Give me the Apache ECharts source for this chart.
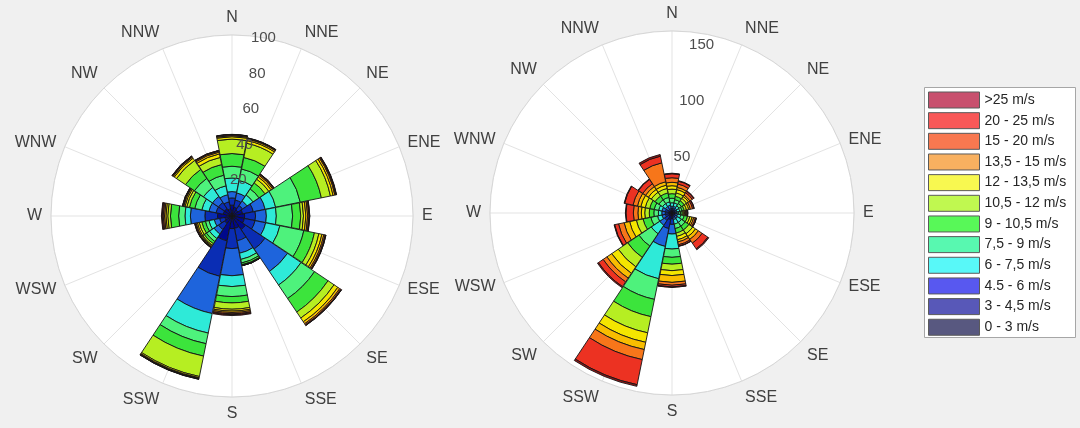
<!DOCTYPE html>
<html>
<head>
<meta charset="utf-8">
<script src="https://cdn.jsdelivr.net/npm/echarts@6/dist/echarts.min.js"></script>
<style>
  html, body { margin: 0; padding: 0; background: #f0f0f0; }
  #chart { width: 1080px; height: 428px; }
</style>
</head>
<body>
<div id="chart"></div>
<script>
// Compass sectors, clockwise from north
const directions = ['N', 'NNE', 'NE', 'ENE', 'E', 'ESE', 'SE', 'SSE',
                    'S', 'SSW', 'SW', 'WSW', 'W', 'WNW', 'NW', 'NNW'];

// Wind speed classes, slowest first (stacked from the centre outwards)
const speedClasses = ['0 - 3 m/s', '3 - 4,5 m/s', '4.5 - 6 m/s', '6 - 7,5 m/s',
                      '7,5 - 9 m/s', '9 - 10,5 m/s', '10,5 - 12 m/s', '12 - 13,5 m/s',
                      '13,5 - 15 m/s', '15 - 20 m/s', '20 - 25 m/s', '>25 m/s'];

// Fill of the rose segments per class
const barColors = ['#00088c', '#0a2db4', '#1e64dc', '#2eead8', '#4ef27c', '#3ce43c',
                   '#b6ee22', '#f4e600', '#f9bd00', '#f7761a', '#ec3222', '#9c1616'];

// Softer swatch colours used in the legend box
const legendColors = ['#585880', '#5858b8', '#5858f0', '#58f8f8', '#58f8b0', '#58f858',
                      '#c0f850', '#f8f850', '#f8b060', '#f87850', '#f85858', '#c8506e'];

// Ring ticks of each rose
const leftRings = { max: 100, step: 20 };
const rightRings = { max: 160, step: 50 };

// Left rose: one row per direction (N ... NNW), one value per speed class
const leftRose = [
  [6, 4, 3.5, 7.5, 6.5, 7, 8, 1.3, 0.6, 0.4, 0.2, 0.1],
  [5, 4, 4, 7, 6.5, 6.5, 8, 1.5, 0.8, 0.4, 0.2, 0.1],
  [4, 3, 3, 4, 4, 4, 2.5, 1.5, 1, 0.6, 0.3, 0.1],
  [6, 6, 6.7, 5.9, 13.9, 11.9, 5.1, 1.5, 1, 0.5, 0.3, 0.2],
  [7, 6, 6, 5.5, 9, 4.5, 1.5, 1.3, 1, 0.7, 0.4, 0.1],
  [7, 6, 6, 8, 13.5, 6, 2.5, 1.7, 1.1, 0.7, 0.4, 0.1],
  [9, 13, 15, 9, 9, 9, 4, 2.5, 1.3, 0.7, 0.4, 0.1],
  [7, 7, 7, 3.5, 2, 1, 0.3, 0.1, 0.1, 0, 0, 0],
  [7, 11, 15, 6, 5.5, 3.5, 3.5, 1, 0.8, 0.7, 0.5, 0.5],
  [14, 20, 21, 11, 6, 7, 11.5, 0.7, 0.4, 0.2, 0.2, 0.1],
  [5, 4, 3, 3, 2, 1.5, 1, 0.5, 0.5, 0.3, 0.2, 0.1],
  [4, 3, 3, 3, 2, 2, 1.5, 1, 0.7, 0.5, 0.3, 0.1],
  [8, 7, 8, 3, 3.5, 4.5, 1.5, 1, 0.8, 0.7, 0.6, 0.4],
  [5, 4, 4, 4, 4, 3, 1.5, 1, 0.7, 0.4, 0.3, 0.1],
  [5, 4, 4, 6, 6, 6, 6, 1.5, 0.7, 0.4, 0.3, 0.1],
  [4, 4, 4, 5, 6, 6, 4, 2, 1, 0.6, 0.3, 0.1]
];

// Right rose: same layout
const rightRose = [
  [2, 2, 2, 3, 4, 4, 4, 3, 3, 4, 3.5, 0.5],
  [2, 2, 2, 3, 3, 3, 3, 3, 2, 3, 2.5, 0.5],
  [2, 1.5, 1.5, 2.5, 2.5, 3, 2.5, 2, 1.5, 2.5, 1.5, 0.5],
  [1.5, 1.5, 1.5, 2.5, 2, 2, 2, 2, 1.5, 2, 1.2, 0.3],
  [1.5, 1.5, 1.5, 1.5, 1.5, 1.5, 1, 1, 1, 1, 0.8, 0.2],
  [1.5, 1.5, 2, 3, 3, 3, 2, 2, 1.5, 1.5, 0.8, 0.2],
  [2, 2, 2, 4, 4, 4, 4, 3, 3, 4, 6, 1],
  [2, 2, 2, 4, 4, 4, 3, 3, 2, 2.5, 1.2, 0.3],
  [5, 5, 8.5, 13.2, 7.3, 6, 5.7, 4.3, 6, 2.5, 1.5, 0.5],
  [6, 8, 16, 29, 18.5, 15.5, 14.5, 8.5, 6.5, 9, 22.5, 1.5],
  [4, 4, 5, 9, 13, 12, 10, 7, 5, 4, 5, 1],
  [3, 3, 3, 4, 6, 7, 6, 6, 5, 5, 3.5, 0.5],
  [3, 3, 3, 3, 4, 4, 4, 3, 3, 4, 6.5, 0.5],
  [3, 3, 3, 3, 4, 4, 4, 4, 3, 4, 7.5, 0.5],
  [2, 2, 3, 3, 4, 4, 4, 3, 3, 3, 4.5, 0.5],
  [2, 2, 3, 3, 4, 4, 4, 3, 3, 17, 6, 1.5]
];

const FONT = '"Liberation Sans", Arial, Helvetica, sans-serif';
const GRID = '#e3e3e3';

const roses = [
  { center: [232, 216], radius: 181, rings: leftRings, data: leftRose, stack: 'left' },
  { center: [672, 213], radius: 182, rings: rightRings, data: rightRose, stack: 'right' }
];

// Diagonal-ish labels sit vertically centred on their anchor
const sideLabels = ['ENE', 'ESE', 'WSW', 'WNW'];
const angleCategories = directions.map(d =>
  sideLabels.includes(d) ? { value: d, textStyle: { lineHeight: 1 } } : d);

const polar = [];
const angleAxis = [];
const radiusAxis = [];
const series = [];

// Main roses: sectors, rings and the stacked bars
roses.forEach((r, i) => {
  polar.push({ center: r.center, radius: r.radius });
  angleAxis.push({
    polarIndex: i,
    type: 'category',
    data: angleCategories,
    startAngle: 90 + 360 / directions.length / 2,
    clockwise: true,
    axisLine: { show: true, lineStyle: { color: '#d6d6d6', width: 1 } },
    axisTick: { show: false, alignWithLabel: true },
    splitLine: { show: true, lineStyle: { color: GRID, width: 1 } },
    axisLabel: { margin: 9, color: '#404040', fontSize: 16, fontFamily: FONT }
  });
  radiusAxis.push({
    polarIndex: i,
    min: 0, max: r.rings.max, interval: r.rings.step,
    axisLine: { show: false },
    axisTick: { show: false },
    axisLabel: { show: false },
    splitLine: { show: true, lineStyle: { color: GRID, width: 1 } },
    splitArea: { show: true, areaStyle: { color: ['#ffffff'] } }
  });
  speedClasses.forEach((name, k) => {
    series.push({
      type: 'bar',
      coordinateSystem: 'polar',
      polarIndex: i,
      stack: r.stack,
      name: name,
      data: r.data.map(row => row[k]),
      barCategoryGap: '2%',
      itemStyle: { color: barColors[k], borderColor: '#141414', borderWidth: 0.9 },
      emphasis: { disabled: true },
      silent: true
    });
  });
});

// Ring value labels drawn on top of the bars, just clockwise of north
roses.forEach((r, i) => {
  polar.push({ center: r.center, radius: r.radius });
  angleAxis.push({
    polarIndex: 2 + i, type: 'value', min: 0, max: 360,
    startAngle: 80, show: false
  });
  radiusAxis.push({
    polarIndex: 2 + i,
    min: 0, max: r.rings.max, interval: r.rings.step,
    z: 10,
    axisLine: { show: false },
    axisTick: { show: false },
    splitLine: { show: false },
    axisLabel: {
      showMinLabel: false,
      showMaxLabel: r.rings.max % r.rings.step === 0,
      margin: 0, align: 'center', verticalAlign: 'middle',
      color: '#4d4d4d', fontSize: 15, fontFamily: FONT
    }
  });
});

const legendOrder = speedClasses.map((_, k) => speedClasses.length - 1 - k);

const chart = echarts.init(document.getElementById('chart'), null, { renderer: 'canvas' });
chart.setOption({
  animation: false,
  backgroundColor: '#f0f0f0',
  graphic: [{
    type: 'rect',
    shape: { x: 924.5, y: 87.5, width: 151, height: 250 },
    style: { fill: '#ffffff', stroke: '#a6a6a6', lineWidth: 1 },
    z: 0
  }],
  legend: {
    orient: 'vertical',
    left: 928, top: 91.5,
    padding: 0,
    itemWidth: 51, itemHeight: 16, itemGap: 3.66,
    icon: 'rect',
    selectedMode: false,
    textStyle: { fontSize: 14, color: '#262626', fontFamily: FONT },
    data: legendOrder.map(k => ({
      name: speedClasses[k],
      itemStyle: { color: legendColors[k], borderColor: '#5a5a5a', borderWidth: 1 }
    }))
  },
  polar: polar,
  angleAxis: angleAxis,
  radiusAxis: radiusAxis,
  series: series
});
</script>
</body>
</html>
